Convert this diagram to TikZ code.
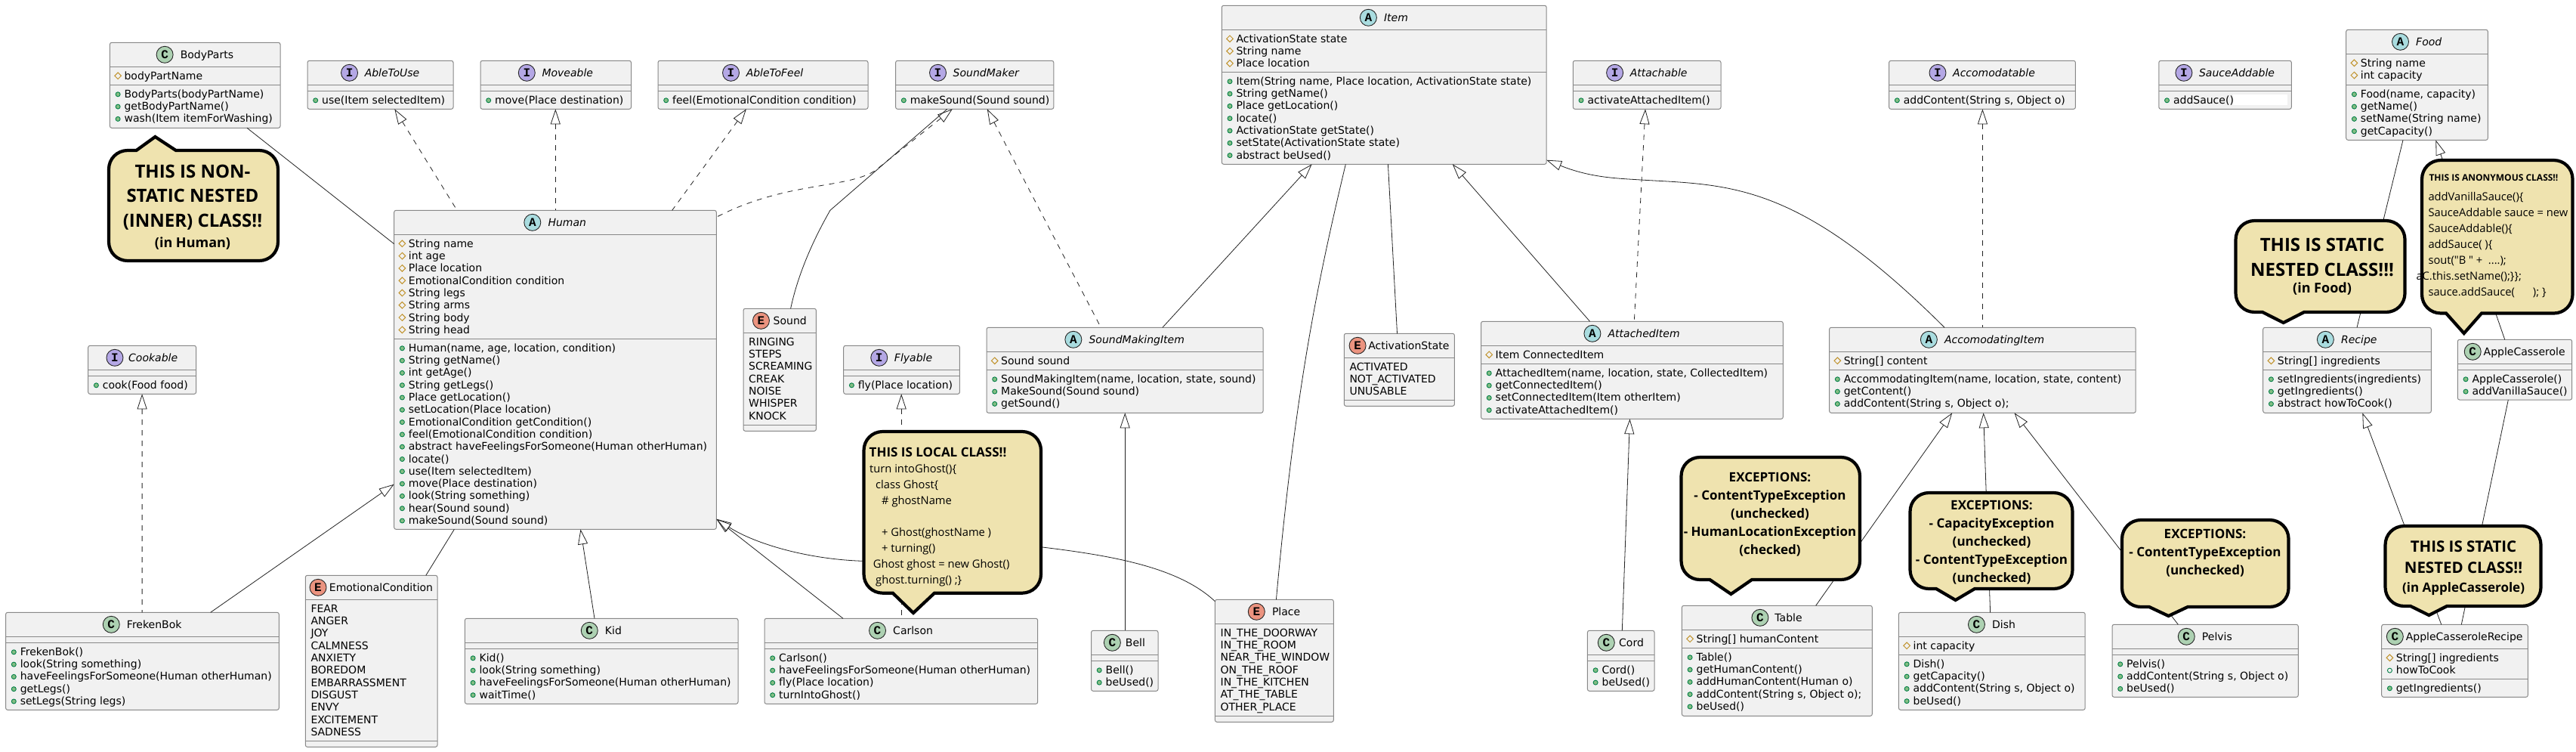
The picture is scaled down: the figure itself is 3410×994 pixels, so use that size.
\documentclass[tikz,border=0pt]{standalone}
\usepackage{fontspec}
\setmainfont{DejaVu Sans}
\newfontfamily\notefont{Open Sans}
\newfontfamily\markfont{Liberation Mono}
\usetikzlibrary{arrows.meta}

\definecolor{boxfill}{HTML}{F1F1F1}
\definecolor{boxline}{HTML}{888888}
\definecolor{arcline}{HTML}{222222}
\definecolor{notefill}{HTML}{EFE3AF}
\definecolor{markgreen}{HTML}{ADD1B2}
\definecolor{markcyan}{HTML}{A9DCDF}
\definecolor{markviolet}{HTML}{B4A7E5}
\definecolor{markred}{HTML}{EB937F}
\definecolor{protcolor}{HTML}{C0922B}
\definecolor{pubcolor}{HTML}{038048}
\definecolor{pubfill}{HTML}{84BE84}

\tikzset{
  classbody/.style={draw=boxline, fill=boxfill, line width=1pt, rounded corners=2.5pt,
    inner sep=0pt, outer sep=0pt, anchor=north west},
  classline/.style={draw=boxline, line width=1pt},
  classtitle/.style={anchor=base, inner sep=0pt, font=\fontsize{14}{16}\selectfont},
  classmark/.style={circle, draw=black!85, line width=.9pt, minimum size=22pt, inner sep=0pt,
    font=\markfont\bfseries\fontsize{16}{16}\selectfont},
  markC/.style={fill=markgreen},
  markA/.style={fill=markcyan},
  markI/.style={fill=markviolet},
  markE/.style={fill=markred},
  member/.style={anchor=base west, inner sep=0pt, font=\fontsize{14}{16}\selectfont},
  protectedmark/.style={draw=protcolor, line width=1pt},
  publicmark/.style={draw=pubcolor, fill=pubfill, line width=.9pt},
  openmark/.style={draw=pubcolor, line width=.9pt},
  assoc/.style={draw=arcline, line width=.8pt},
  realize/.style={assoc, dash pattern=on 7pt off 7pt, {Triangle[open,length=20pt,width=13pt]}-},
  extend/.style={assoc, {Triangle[open,length=20pt,width=13pt]}-},
  notebubble/.style={draw=black, fill=notefill, line width=4.2pt, line join=miter},
  notetext/.style={inner sep=0pt, anchor=base, font=\notefont\bfseries},
  notecode/.style={inner sep=0pt, anchor=base west, font=\notefont\fontsize{14.7}{15}\selectfont}
}

% gap, name, letter, title, left, right, top, divider, bottom
\newcommand{\classbox}[9][9.5]{
  \node[classbody, minimum width={(#6-#5)*1pt}, minimum height={(#9-#7)*1pt}] (#2) at (#5,#7) {};
  \draw[classline] (#5,#7+32) -- (#6,#7+32);
  \draw[classline] (#5,#8) -- (#6,#8);
  \node[classtitle] (#2Title) at ({(#5+#6)/2+11+#1/2},#7+21) {#4};
  \coordinate (#2Head) at (0,#7+16);
  \node[classmark, mark#3] (#2Mark) at ([xshift={-(11+#1)*1pt}]#2Title.west |- #2Head) {#3};
  \coordinate (#2Attr) at (#5,#7+32);
  \coordinate (#2Meth) at (#5,#8);
}
\newcommand{\protmark}[2]{\draw[protectedmark] ([shift={(10.7,12+16.3*#2)}]#1) ++(-4.3,0) -- ++(4.3,-4.3) -- ++(4.3,4.3) -- ++(-4.3,4.3) -- cycle;}
\newcommand{\pubmark}[2]{\draw[publicmark] ([shift={(10.7,12.5+16.3*#2)}]#1) circle[radius=3];}
\newcommand{\hollowmark}[2]{\draw[openmark] ([shift={(10.7,12.5+16.3*#2)}]#1) circle[radius=3];}
% section, mark, lines
\newcommand{\rows}[4][0]{
  \foreach \rowtxt [count=\rowno from #1] in {#4}{
    \node[member] (#2Row\rowno) at ([shift={(19,17+16.3*\rowno)}]#2) {\rowtxt};
    #3{#2}{\rowno}
  }
}
\newcommand{\enumrows}[2]{
  \foreach \rowtxt [count=\rowno from 0] in {#2}{
    \node[member] (#1Row\rowno) at ([shift={(7,17+16.3*\rowno)}]#1) {\rowtxt};
  }
}
% left, right, far side, side of the pointer, pointer start, pointer end, tip
\newcommand{\noteshape}[8]{
  \pgfmathsetmacro{\sd}{sign(#4-#3)}
  \draw[notebubble] (#6,#4) -- (#2-25,#4) .. controls (#2-11,#4) and (#2,#4-\sd*11) .. (#2,#4-\sd*25)
    -- (#2,#3+\sd*25) .. controls (#2,#3+\sd*11) and (#2-11,#3) .. (#2-25,#3)
    -- (#1+25,#3) .. controls (#1+11,#3) and (#1,#3+\sd*11) .. (#1,#3+\sd*25)
    -- (#1,#4-\sd*25) .. controls (#1,#4-\sd*11) and (#1+11,#4) .. (#1+25,#4)
    -- (#5,#4) -- (#7,#8) -- cycle;
}
% name, x, baseline, size, text
\newcommand{\noteline}[5]{\node[notetext] (#1) at (#2,#3) {\fontsize{#4}{#4}\selectfont #5};}
\newcommand{\codeline}[4]{\node[notecode] (#1) at (#2,#3) {#4};}

\begin{document}
\begin{tikzpicture}[x=1pt,y=-1pt]

  \useasboundingbox (0,0) rectangle (3410,994);

  %Top row interfaces
  \classbox[9]{AbleToUse}{I}{\textit{AbleToUse}}{407}{600}{80.3}{120.3}{144.3}
  \rows{AbleToUseMeth}{\pubmark}{use(Item selectedItem)}
  \classbox[9]{Moveable}{I}{\textit{Moveable}}{636}{835.5}{80.3}{120.3}{144.3}
  \rows{MoveableMeth}{\pubmark}{move(Place destination)}
  \classbox[9]{AbleToFeel}{I}{\textit{AbleToFeel}}{871}{1149}{80.3}{120.3}{144.3}
  \rows{AbleToFeelMeth}{\pubmark}{feel(EmotionalCondition condition)}
  \classbox[9]{SoundMaker}{I}{\textit{SoundMaker}}{1185.6}{1394.8}{80.3}{120.3}{144.3}
  \rows{SoundMakerMeth}{\pubmark}{makeSound(Sound sound)}
  \classbox[9]{Attachable}{I}{\textit{Attachable}}{2082.3}{2278}{80.3}{120.3}{144.3}
  \rows{AttachableMeth}{\pubmark}{activateAttachedItem()}
  \classbox[9]{Accomodatable}{I}{\textit{Accomodatable}}{2500.6}{2747.4}{80.3}{120.3}{144.3}
  \rows{AccomodatableMeth}{\pubmark}{{addContent(String s, Object o)}}
  \classbox[9]{SauceAddable}{I}{\textit{SauceAddable}}{2857.8}{3033.3}{80.3}{120.3}{144.3}
  \rows{SauceAddableMeth}{\pubmark}{addSauce()}
  \fill[white] (2956,125) rectangle (3028,139);
  \classbox[7]{Cookable}{I}{\textit{Cookable}}{116.7}{259.6}{457.3}{497.3}{521.3}
  \rows{CookableMeth}{\pubmark}{cook(Food food)}
  \classbox[9]{Flyable}{I}{\textit{Flyable}}{1116.7}{1270.4}{457.3}{497.3}{521.3}
  \rows{FlyableMeth}{\pubmark}{fly(Place location)}

  %Human side
  \classbox{BodyParts}{C}{BodyParts}{145.4}{371}{56.3}{112.3}{169.3}
  \rows{BodyPartsAttr}{\protmark}{bodyPartName}
  \rows{BodyPartsMeth}{\pubmark}{BodyParts(bodyPartName), getBodyPartName(), wash(Item itemForWashing)}
  \classbox{Human}{A}{\textit{Human}}{521.7}{948.3}{278.3}{448.3}{700.3}
  \rows{HumanAttr}{\protmark}{String name, int age, Place location, EmotionalCondition condition,
    String legs, String arms, String body, String head}
  \rows{HumanMeth}{\pubmark}{{Human(name, age, location, condition)}, String getName(), int getAge(),
    String getLegs(), Place getLocation(), setLocation(Place location),
    EmotionalCondition getCondition(), feel(EmotionalCondition condition),
    abstract haveFeelingsForSomeone(Human otherHuman), locate(), use(Item selectedItem),
    move(Place destination), look(String something), hear(Sound sound), makeSound(Sound sound)}
  \classbox{FrekenBok}{C}{FrekenBok}{7.6}{369.3}{810.3}{850.3}{939.3}
  \rows{FrekenBokMeth}{\pubmark}{FrekenBok(), look(String something),
    haveFeelingsForSomeone(Human otherHuman), getLegs(), setLegs(String legs)}
  \classbox[3.7]{EmotionalCondition}{E}{EmotionalCondition}{404.3}{579}{761.3}{980.3}{988.3}
  \enumrows{EmotionalConditionAttr}{FEAR, ANGER, JOY, CALMNESS, ANXIETY, BOREDOM, EMBARRASSMENT,
    DISGUST, ENVY, EXCITEMENT, SADNESS}
  \classbox{Kid}{C}{Kid}{615.4}{977}{818.3}{858.3}{931.3}
  \rows{KidMeth}{\pubmark}{Kid(), look(String something), haveFeelingsForSomeone(Human otherHuman), waitTime()}
  \classbox[5]{Sound}{E}{Sound}{984}{1080.4}{408.3}{562.3}{570.3}
  \enumrows{SoundAttr}{RINGING, STEPS, SCREAMING, CREAK, NOISE, WHISPER, KNOCK}
  \classbox{Carlson}{C}{Carlson}{1012}{1373.7}{818.3}{858.3}{931.3}
  \rows{CarlsonMeth}{\pubmark}{Carlson(), haveFeelingsForSomeone(Human otherHuman), fly(Place location), turnIntoGhost()}
  \classbox{Place}{E}{Place}{1608.4}{1765.3}{793.3}{947.3}{955.3}
  \enumrows{PlaceAttr}{IN\_THE\_DOORWAY, IN\_THE\_ROOM, NEAR\_THE\_WINDOW, ON\_THE\_ROOF,
    IN\_THE\_KITCHEN, AT\_THE\_TABLE, OTHER\_PLACE}

  %Items
  \classbox{Item}{A}{\textit{Item}}{1617.3}{2047.2}{7.3}{95.3}{217.3}
  \rows{ItemAttr}{\protmark}{ActivationState state, String name, Place location}
  \rows{ItemMeth}{\pubmark}{{Item(String name, Place location, ActivationState state)}, String getName(),
    Place getLocation(), locate(), ActivationState getState(), setState(ActivationState state), abstract beUsed()}
  \classbox{SoundMakingItem}{A}{\textit{SoundMakingItem}}{1306}{1672}{433.3}{489.3}{546.3}
  \rows{SoundMakingItemAttr}{\protmark}{Sound sound}
  \rows{SoundMakingItemMeth}{\pubmark}{{SoundMakingItem(name, location, state, sound)}, MakeSound(Sound sound), getSound()}
  \classbox[3]{ActivationState}{E}{ActivationState}{1779.3}{1925.4}{441.3}{529.3}{537.3}
  \enumrows{ActivationStateAttr}{ACTIVATED, NOT\_ACTIVATED, UNUSABLE}
  \classbox{AttachedItem}{A}{\textit{AttachedItem}}{1960.5}{2360.3}{425.3}{481.3}{554.3}
  \rows{AttachedItemAttr}{\protmark}{Item ConnectedItem}
  \rows{AttachedItemMeth}{\pubmark}{{AttachedItem(name, location, state, CollectedItem)}, getConnectedItem(),
    setConnectedItem(Item otherItem), activateAttachedItem()}
  \classbox{AccomodatingItem}{A}{\textit{AccomodatingItem}}{2421.6}{2827.2}{433.3}{489.3}{546.3}
  \rows{AccomodatingItemAttr}{\protmark}{String[] content}
  \rows{AccomodatingItemMeth}{\pubmark}{{AccommodatingItem(name, location, state, content)}, getContent(),
    {addContent(String s, Object o);}}
  \classbox[6.4]{Bell}{C}{Bell}{1444.5}{1533}{834.3}{874.3}{914.3}
  \rows{BellMeth}{\pubmark}{Bell(), beUsed()}
  \classbox[5.7]{Cord}{C}{Cord}{2101.4}{2190}{834.3}{874.3}{914.3}
  \rows{CordMeth}{\pubmark}{Cord(), beUsed()}
  \classbox[8.3]{Table}{C}{Table}{2226.4}{2478.3}{801.3}{857.3}{947.3}
  \rows{TableAttr}{\protmark}{String[] humanContent}
  \rows{TableMeth}{\pubmark}{Table(), getHumanContent(), addHumanContent(Human o),
    {addContent(String s, Object o);}, beUsed()}
  \classbox{Dish}{C}{Dish}{2513.4}{2760.2}{810.3}{866.3}{939.3}
  \rows{DishAttr}{\protmark}{int capacity}
  \rows{DishMeth}{\pubmark}{Dish(), getCapacity(), {addContent(String s, Object o)}, beUsed()}
  \classbox{Pelvis}{C}{Pelvis}{2796}{3042.3}{826.3}{866.3}{922.3}
  \rows{PelvisMeth}{\pubmark}{Pelvis(), {addContent(String s, Object o)}, beUsed()}

  %Food
  \classbox{Food}{A}{\textit{Food}}{3105.7}{3293.3}{39.3}{112.3}{185.3}
  \rows{FoodAttr}{\protmark}{String name, int capacity}
  \rows{FoodMeth}{\pubmark}{{Food(name, capacity)}, getName(), setName(String name), getCapacity()}
  \classbox{Recipe}{A}{\textit{Recipe}}{2995.7}{3218.3}{433.3}{489.3}{546.3}
  \rows{RecipeAttr}{\protmark}{String[] ingredients}
  \rows{RecipeMeth}{\pubmark}{setIngredients(ingredients), getIngredients(), abstract howToCook()}
  \classbox[3.3]{AppleCasserole}{C}{AppleCasserole}{3253.3}{3404.7}{449.3}{489.3}{529}
  \rows{AppleCasseroleMeth}{\pubmark}{AppleCasserole(), addVanillaSauce()}
  \classbox[3.3]{AppleCasseroleRecipe}{C}{AppleCasseroleRecipe}{3152.7}{3346.3}{826.3}{898.3}{922.3}
  \rows{AppleCasseroleRecipeAttr}{\protmark}{String[] ingredients}
  \rows[1]{AppleCasseroleRecipeAttr}{\hollowmark}{howToCook}
  \rows{AppleCasseroleRecipeMeth}{\pubmark}{getIngredients()}

  %Human connectors
  \draw[assoc] ([xshift=181.6pt]BodyParts.south west) -- ([yshift=-44.4pt]Human.north west);
  \draw[realize] ([xshift=115.3pt]AbleToUse.south west) -- ([xshift=83.3pt]Human.north west);
  \draw[realize] ([xshift=99.3pt]Moveable.south west) -- ([xshift=213.6pt]Human.north west);
  \draw[realize] ([xshift=116.9pt]AbleToFeel.south west) -- ([xshift=368pt]Human.north west);
  \draw[realize] ([xshift=75.2pt]SoundMaker.south west) -- (1158,226)
    .. controls (1120,250) and (1040,240) .. ([yshift=-9pt]Human.north east);
  \draw[assoc] ([xshift=68.2pt]SoundMaker.south west) -- (1098.9,278.3)
    .. controls (1082,308) and (1058,355) .. ([xshift=62.6pt]Sound.north west);
  \draw[realize] ([xshift=121.2pt]SoundMaker.south west) -- ([xshift=151.3pt]SoundMakingItem.north west);
  \draw[realize] ([xshift=71.4pt]Cookable.south west) -- ([xshift=180.5pt]FrekenBok.north west);
  \draw[extend] ([yshift=59.6pt]Human.south west) -- ([xshift=271.1pt]FrekenBok.north west);
  \draw[assoc] ([xshift=79.7pt]Human.south west) -- ([xshift=159.5pt]EmotionalCondition.north west);
  \draw[extend] ([xshift=246.8pt]Human.south west) -- ([xshift=171.6pt]Kid.north west);
  \draw[extend] ([yshift=13.6pt]Human.south east) -- ([xshift=104pt]Carlson.north west);
  \draw[extend] ([yshift=13.6pt]Human.south east) .. controls (1000,720) and (1070,740) .. (1141.6,742.3)
    .. controls (1220,745) and (1300,722) .. (1380,724)
    .. controls (1470,735) and (1560,750) .. ([yshift=-2.4pt]Place.north west);
  \draw[realize] ([xshift=76.5pt]Flyable.south west) -- ([xshift=181.2pt]Carlson.north west);

  %Item connectors
  \draw[extend] ([xshift=119.3pt]Item.south west) -- ([xshift=232.9pt]SoundMakingItem.north west);
  \draw[assoc] ([xshift=164pt]Item.south west) .. controls (1745,370) and (1715,510) .. ([xshift=81pt]Place.north west);
  \draw[assoc] ([xshift=220.1pt]Item.south west) -- ([xshift=70.2pt]ActivationState.north west);
  \draw[extend] ([xshift=305.5pt]Item.south west) -- ([xshift=144.1pt]AttachedItem.north west);
  \draw[realize] ([xshift=95.7pt]Attachable.south west) -- ([xshift=202.8pt]AttachedItem.north west);
  \draw[extend] ([yshift=5.6pt]Item.south east) .. controls (2105,235) and (2140,236) .. (2172,238)
    .. controls (2290,245) and (2380,240) .. ([xshift=152.4pt]AccomodatingItem.north west);
  \draw[realize] ([xshift=123.8pt]Accomodatable.south west) -- ([xshift=202.8pt]AccomodatingItem.north west);
  \draw[extend] ([xshift=183.2pt]SoundMakingItem.south west) -- ([xshift=44.7pt]Bell.north west);
  \draw[extend] ([xshift=197pt]AttachedItem.south west) -- ([xshift=45.9pt]Cord.north west);
  \draw[extend] ([xshift=162.6pt]AccomodatingItem.south west) -- ([xshift=177.3pt]Table.north west);
  \draw[extend] ([xshift=204pt]AccomodatingItem.south west) -- ([xshift=121.2pt]Dish.north west);
  \draw[extend] ([xshift=244.9pt]AccomodatingItem.south west) -- ([xshift=87.3pt]Pelvis.north west);

  %Food connectors
  \draw[assoc] ([xshift=75.3pt]Food.south west) -- ([xshift=124.3pt]Recipe.north west);
  \draw[extend] ([xshift=118.6pt]Food.south west) -- ([xshift=62.4pt]AppleCasserole.north west);
  \draw[extend] ([xshift=131.6pt]Recipe.south west) -- ([xshift=79pt]AppleCasseroleRecipe.north west);
  \draw[assoc] ([xshift=67pt]AppleCasserole.south west) -- ([xshift=105.6pt]AppleCasseroleRecipe.north west);

  %Notes
  \noteshape{144}{368}{345}{199}{180.5}{232.8}{205.4}{181}
  \noteline{innerA}{255}{235}{24}{THIS IS NON-}
  \noteline{innerB}{255}{267.5}{24}{STATIC NESTED}
  \noteline{innerC}{255}{300.5}{24}{(INNER) CLASS!!}
  \noteline{innerD}{255}{327}{18}{(in Human)}

  \noteshape{1143.5}{1378}{571}{784.7}{1181.8}{1237}{1209}{811}
  \node[notecode] (localA) at (1150.5,604) {\bfseries\fontsize{17}{17}\selectfont THIS IS LOCAL CLASS!!};
  \codeline{localB}{1151}{625}{turn intoGhost()\{}
  \codeline{localC}{1159}{646}{class Ghost\{}
  \codeline{localD}{1167}{667}{\# ghostName}
  \codeline{localE}{1167}{709}{+ Ghost(ghostName )}
  \codeline{localF}{1167}{730}{+ turning()}
  \codeline{localG}{1155.6}{751}{Ghost ghost = new Ghost()}
  \codeline{localH}{1159}{772}{ghost.turning() ;\}}

  \noteshape{2225.5}{2462}{605}{767}{2263.4}{2319}{2291.4}{786}
  \noteline{tableA}{2343}{637}{17}{EXCEPTIONS:}
  \noteline{tableB}{2343}{661}{17}{- ContentTypeException}
  \noteline{tableC}{2343}{685}{17}{(unchecked)}
  \noteline{tableD}{2343}{709}{17}{- HumanLocationException}
  \noteline{tableE}{2343}{733}{17}{(checked)}

  \noteshape{2528.5}{2743.5}{652}{779}{2563}{2614}{2588.6}{794}
  \noteline{dishA}{2636.5}{674}{17}{EXCEPTIONS:}
  \noteline{dishB}{2636.5}{698}{17}{- CapacityException}
  \noteline{dishC}{2636.5}{722}{17}{(unchecked)}
  \noteline{dishD}{2636.5}{746}{17}{- ContentTypeException}
  \noteline{dishE}{2636.5}{770}{17}{(unchecked)}

  \noteshape{2809}{3029.5}{688}{803}{2845}{2896}{2870.5}{815}
  \noteline{pelvisA}{2919}{712}{17}{EXCEPTIONS:}
  \noteline{pelvisB}{2919}{736}{17}{- ContentTypeException}
  \noteline{pelvisC}{2919}{760}{17}{(unchecked)}

  \noteshape{2959.5}{3183.5}{292}{413}{2995}{3050}{3022.7}{427}
  \noteline{foodA}{3074}{332}{24}{THIS IS STATIC}
  \noteline{foodB}{3074}{365}{24}{NESTED CLASS!!!}
  \noteline{foodC}{3074}{387}{18}{(in Food)}

  \noteshape{3206}{3405.5}{212}{414.5}{3238}{3285}{3261.7}{441}
  \node[notecode] (anonA) at (3215.3,239) {\bfseries\fontsize{12}{12}\selectfont THIS IS ANONYMOUS CLASS!!};
  \codeline{anonB}{3214.3}{265}{addVanillaSauce()\{}
  \codeline{anonC}{3214.3}{286}{SauceAddable sauce = new}
  \codeline{anonD}{3214.3}{307}{SauceAddable()\{}
  \codeline{anonE}{3214.3}{328}{addSauce( )\{}
  \codeline{anonF}{3214.3}{349}{sout("B " +\ \ ....);}
  \codeline{anonG}{3198.3}{370}{aC.this.setName();\}\};}
  \codeline{anonH}{3214.3}{391}{sauce.addSauce(\hspace*{24pt}); \}}

  \noteshape{3157.5}{3363.5}{696}{802}{3191}{3239}{3215.3}{814}
  \noteline{recipeA}{3261}{730.5}{20.5}{THIS IS STATIC}
  \noteline{recipeB}{3261}{758}{20.5}{NESTED CLASS!!}
  \noteline{recipeC}{3261}{783}{17}{(in AppleCasserole)}

\end{tikzpicture}
\end{document}
